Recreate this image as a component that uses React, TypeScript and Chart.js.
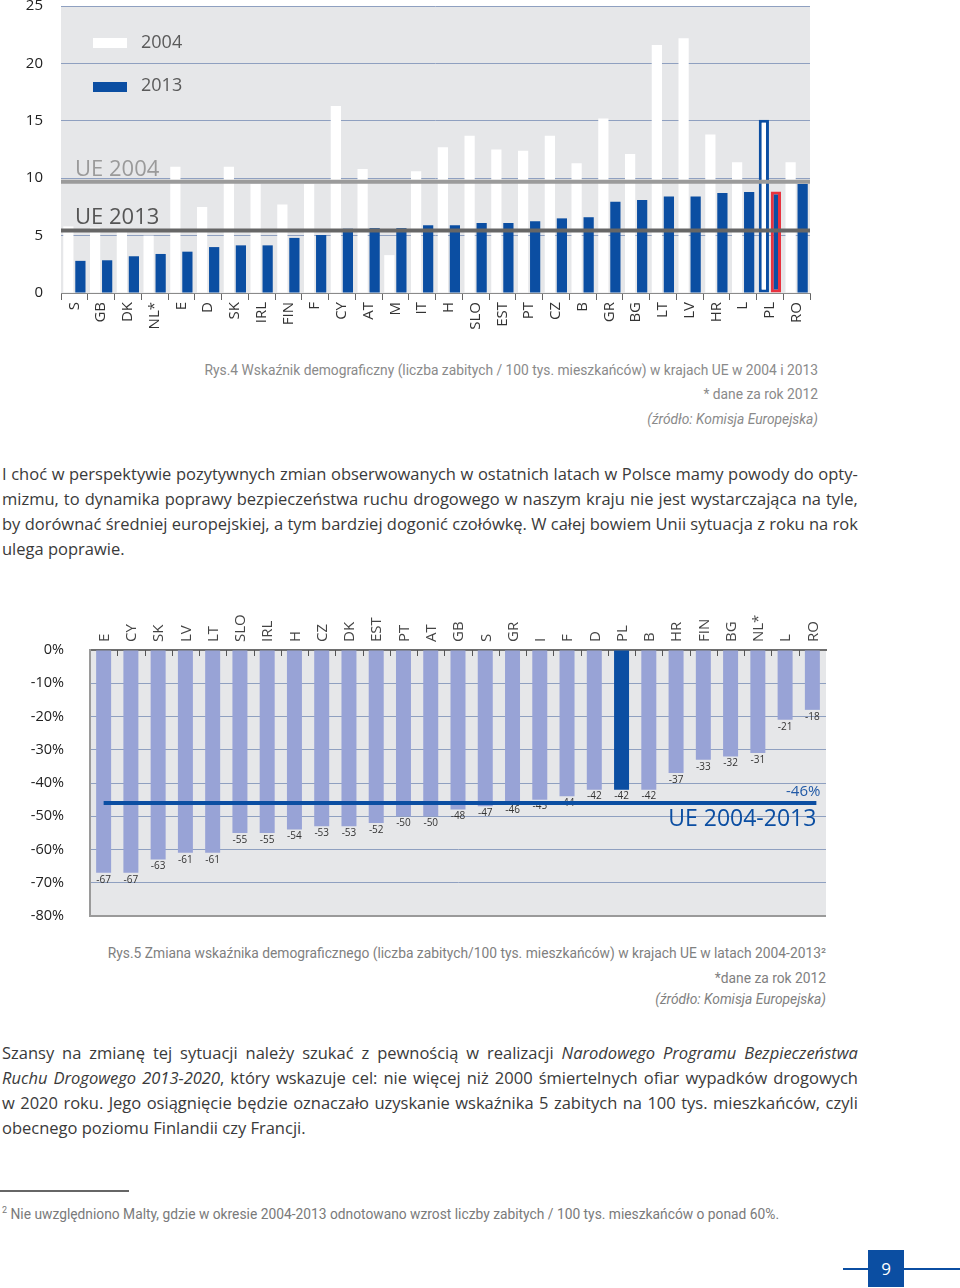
import React, { useEffect, useRef } from 'react';
import { Chart, registerables } from 'chart.js';
Chart.register(...registerables);

// ---------- Data: chart 1 (Rys.4) ----------
const countries1 = ['S', 'GB', 'DK', 'NL*', 'E', 'D', 'SK', 'IRL', 'FIN', 'F', 'CY', 'AT', 'M', 'IT', 'H', 'SLO', 'EST', 'PT', 'CZ', 'B', 'GR', 'BG', 'LT', 'LV', 'HR', 'L', 'PL', 'RO'];
const values2004 = [5.8, 5.7, 5.5, 5.0, 11.0, 7.5, 11.0, 9.5, 7.7, 9.5, 16.3, 10.8, 3.3, 10.6, 12.7, 13.7, 12.5, 12.4, 13.7, 11.3, 15.2, 12.1, 21.6, 22.2, 13.8, 11.4, 15.1, 11.4];
const values2013 = [2.8, 2.85, 3.2, 3.4, 3.6, 4.0, 4.15, 4.15, 4.8, 5.05, 5.6, 5.65, 5.65, 5.9, 5.9, 6.1, 6.1, 6.25, 6.5, 6.6, 7.95, 8.1, 8.4, 8.4, 8.7, 8.8, 8.85, 9.5];
const ue2004 = 9.7;
const ue2013 = 5.45;
const legendLabels1 = ['2004', '2013'];
const refLabels1 = ['UE 2004', 'UE 2013'];

// ---------- Data: chart 2 (Rys.5) ----------
const countries2 = ['E', 'CY', 'SK', 'LV', 'LT', 'SLO', 'IRL', 'H', 'CZ', 'DK', 'EST', 'PT', 'AT', 'GB', 'S', 'GR', 'I', 'F', 'D', 'PL', 'B', 'HR', 'FIN', 'BG', 'NL*', 'L', 'RO'];
const change2 = [-67, -67, -63, -61, -61, -55, -55, -54, -53, -53, -52, -50, -50, -48, -47, -46, -45, -44, -42, -42, -42, -37, -33, -32, -31, -21, -18];
const ueChange = -46;
const ueChangeLabel = 'UE 2004-2013';

const BLUE = '#0b4ea2';
const RED = '#e8333f';
const LAVENDER = '#98a3d6';
const PLOT_BG = '#e6e7e9';
const GRID = '#8fa0c0';
const FONT = '"Open Sans", "Noto Sans", sans-serif';
const FONT2 = 'Roboto, "Open Sans", sans-serif';

const zeroPad = (s: any) => {
  s.paddingTop = 0;
  s.paddingBottom = 0;
  s.paddingLeft = 0;
  s.paddingRight = 0;
};

const bgPlugin = {
  id: 'plotbg',
  beforeDraw(chart: any) {
    const { ctx, chartArea } = chart;
    ctx.save();
    ctx.fillStyle = PLOT_BG;
    ctx.fillRect(chartArea.left, chartArea.top, chartArea.right - chartArea.left, chartArea.bottom - chartArea.top);
    ctx.restore();
  },
};

const overlay1 = {
  id: 'overlay1',
  afterDatasetsDraw(chart: any) {
    const { ctx, chartArea } = chart;
    const y = chart.scales.y;
    ctx.save();
    const y04 = y.getPixelForValue(ue2004);
    const y13 = y.getPixelForValue(ue2013);
    ctx.lineWidth = 4;
    ctx.strokeStyle = '#9b9b9b';
    ctx.beginPath();
    ctx.moveTo(chartArea.left, y04);
    ctx.lineTo(chartArea.right, y04);
    ctx.stroke();
    ctx.strokeStyle = '#666666';
    ctx.beginPath();
    ctx.moveTo(chartArea.left, y13);
    ctx.lineTo(chartArea.right, y13);
    ctx.stroke();
    ctx.font = '22px ' + FONT;
    ctx.textAlign = 'left';
    ctx.textBaseline = 'alphabetic';
    ctx.fillStyle = '#9a9a9a';
    ctx.fillText(refLabels1[0], chartArea.left + 14, y04 - 6);
    ctx.fillStyle = '#555555';
    ctx.fillText(refLabels1[1], chartArea.left + 14, y13 - 6);
    // legend
    const lx = chartArea.left + 32;
    ctx.fillStyle = '#ffffff';
    ctx.fillRect(lx, chartArea.top + 32, 34, 10);
    ctx.fillStyle = BLUE;
    ctx.fillRect(lx, chartArea.top + 76, 34, 10);
    ctx.font = '18px ' + FONT;
    ctx.fillStyle = '#5a5a5a';
    ctx.textBaseline = 'middle';
    ctx.fillText(legendLabels1[0], lx + 48, chartArea.top + 37);
    ctx.fillText(legendLabels1[1], lx + 48, chartArea.top + 80);
    ctx.restore();
  },
};

const overlay2 = {
  id: 'overlay2',
  afterDatasetsDraw(chart: any) {
    const { ctx, chartArea } = chart;
    const x = chart.scales.x;
    const y = chart.scales.y;
    const meta = chart.getDatasetMeta(0);
    ctx.save();
    ctx.strokeStyle = '#555';
    ctx.lineWidth = 1;
    for (let i = 0; i < countries2.length - 1; i++) {
      const bx = Math.round((x.getPixelForValue(i) + x.getPixelForValue(i + 1)) / 2) + 0.5;
      ctx.beginPath();
      ctx.moveTo(bx, chartArea.top);
      ctx.lineTo(bx, chartArea.top + 6);
      ctx.stroke();
    }
    ctx.font = '10px ' + FONT;
    ctx.fillStyle = '#333';
    ctx.textAlign = 'center';
    ctx.textBaseline = 'middle';
    meta.data.forEach((bar: any, i: number) => {
      ctx.fillText(String(change2[i]), bar.x, bar.y + 7);
    });
    const ay = y.getPixelForValue(ueChange);
    ctx.strokeStyle = BLUE;
    ctx.lineWidth = 4;
    ctx.beginPath();
    ctx.moveTo(meta.data[0].x, ay);
    ctx.lineTo(meta.data[meta.data.length - 1].x + 4, ay);
    ctx.stroke();
    const rx = meta.data[meta.data.length - 1].x + 4;
    ctx.textAlign = 'right';
    ctx.textBaseline = 'alphabetic';
    ctx.fillStyle = '#2159a6';
    ctx.font = '15px ' + FONT;
    ctx.fillText(ueChange + '%', rx + 4, ay - 7);
    ctx.fillStyle = BLUE;
    ctx.font = '23px ' + FONT;
    ctx.fillText(ueChangeLabel, rx, ay + 23);
    ctx.restore();
  },
};

type Seg = { t: string; i: boolean };
function parseWords(line: string): Seg[][] {
  const words: Seg[][] = [];
  let italic = false;
  let cur: Seg[] = [];
  let buf = '';
  const flushBuf = () => {
    if (buf) cur.push({ t: buf, i: italic });
    buf = '';
  };
  for (const ch of line) {
    if (ch === '_') {
      flushBuf();
      italic = !italic;
    } else if (ch === ' ') {
      flushBuf();
      if (cur.length) words.push(cur);
      cur = [];
    } else buf += ch;
  }
  flushBuf();
  if (cur.length) words.push(cur);
  return words;
}

function TextLine({ text, top, justify, left = 2, width = 856, size = 16.5 }: any) {
  const words = parseWords(text);
  return (
    <div
      style={{
        position: 'absolute',
        left,
        top,
        width,
        height: 24,
        lineHeight: '24px',
        display: 'flex',
        justifyContent: justify ? 'space-between' : 'flex-start',
        gap: justify ? 0 : '0.26em',
        whiteSpace: 'nowrap',
        fontFamily: FONT,
        fontSize: size,
        color: '#3a3a3a',
      }}
    >
      {words.map((w, k) => (
        <span key={k}>
          {w.map((s, j) => (
            <span key={j} style={{ fontStyle: s.i ? 'italic' : 'normal' }}>{s.t}</span>
          ))}
        </span>
      ))}
    </div>
  );
}

function Caption({ text, right, top, italic, size = 13.8, color = '#8a8a8a' }: any) {
  return (
    <div
      style={{
        position: 'absolute',
        right,
        top,
        height: 18,
        lineHeight: '18px',
        whiteSpace: 'nowrap',
        fontFamily: FONT2,
        fontSize: size,
        fontStyle: italic ? 'italic' : 'normal',
        color,
      }}
    >
      {text}
    </div>
  );
}

const para1 = [
  'I choć w perspektywie pozytywnych zmian obserwowanych w ostatnich latach w Polsce mamy powody do opty-',
  'mizmu, to dynamika poprawy bezpieczeństwa ruchu drogowego w naszym kraju nie jest wystarczająca na tyle,',
  'by dorównać średniej europejskiej, a tym bardziej dogonić czołówkę. W całej bowiem Unii sytuacja z roku na rok',
  'ulega poprawie.',
];
const para2 = [
  'Szansy na zmianę tej sytuacji należy szukać z pewnością w realizacji _Narodowego Programu Bezpieczeństwa_',
  '_Ruchu Drogowego 2013-2020_, który wskazuje cel: nie więcej niż 2000 śmiertelnych ofiar wypadków drogowych',
  'w 2020 roku. Jego osiągnięcie będzie oznaczało uzyskanie wskaźnika 5 zabitych na 100 tys. mieszkańców, czyli',
  'obecnego poziomu Finlandii czy Francji.',
];

export default function App() {
  const ref1 = useRef<HTMLCanvasElement>(null);
  const ref2 = useRef<HTMLCanvasElement>(null);

  useEffect(() => {
    const tickFont = { family: FONT, size: 15 };
    const c1 = new Chart(ref1.current as HTMLCanvasElement, {
      type: 'bar',
      data: {
        labels: countries1,
        datasets: [
          {
            label: legendLabels1[0],
            data: values2004,
            backgroundColor: '#ffffff',
            borderColor: countries1.map((c) => (c === 'PL' ? BLUE : 'rgba(0,0,0,0)')),
            borderWidth: countries1.map((c) => (c === 'PL' ? 3 : 0)),
            borderSkipped: false,
            categoryPercentage: 0.9,
            barPercentage: 0.85,
          },
          {
            label: legendLabels1[1],
            data: values2013,
            backgroundColor: BLUE,
            borderColor: countries1.map((c) => (c === 'PL' ? RED : 'rgba(0,0,0,0)')),
            borderWidth: countries1.map((c) => (c === 'PL' ? 3 : 0)),
            borderSkipped: false,
            categoryPercentage: 0.9,
            barPercentage: 0.85,
          },
        ],
      },
      options: {
        responsive: false,
        animation: false,
        layout: { padding: { left: 0, top: 6, right: 20, bottom: 0 } },
        plugins: { legend: { display: false }, tooltip: { enabled: false } },
        scales: {
          x: {
            grid: { drawOnChartArea: false, drawTicks: true, tickLength: 7, color: '#666', offset: true },
            border: { display: true, color: '#8a8a8a', width: 1 },
            ticks: { minRotation: 90, maxRotation: 90, autoSkip: false, padding: 2, color: '#333', font: tickFont },
            afterFit: (s: any) => { s.height = 47; zeroPad(s); },
          },
          y: {
            min: 0,
            max: 25,
            ticks: { stepSize: 5, padding: 18, color: '#222', font: tickFont },
            grid: { color: GRID, lineWidth: 1, drawTicks: false },
            border: { display: false },
            afterFit: (s: any) => { s.width = 61; zeroPad(s); },
          },
        },
      } as any,
      plugins: [bgPlugin, overlay1],
    });

    const c2 = new Chart(ref2.current as HTMLCanvasElement, {
      type: 'bar',
      data: {
        labels: countries2,
        datasets: [
          {
            data: change2,
            backgroundColor: countries2.map((c) => (c === 'PL' ? BLUE : LAVENDER)),
            borderWidth: 0,
            categoryPercentage: 1,
            barPercentage: 0.55,
          },
        ],
      },
      options: {
        responsive: false,
        animation: false,
        layout: { padding: { left: 0, top: 0, right: 24, bottom: 14 } },
        plugins: { legend: { display: false }, tooltip: { enabled: false } },
        scales: {
          x: {
            position: 'top',
            grid: { display: false },
            border: { display: true, color: '#6e6e6e', width: 2 },
            ticks: { minRotation: 90, maxRotation: 90, autoSkip: false, padding: 0, labelOffset: 19, color: '#444', font: tickFont },
            afterFit: (s: any) => { s.height = 60; zeroPad(s); },
          },
          y: {
            min: -80,
            max: 0,
            ticks: { stepSize: 10, padding: 26, color: '#222', font: { family: FONT, size: 14.5 }, callback: (v: any) => v + '%' },
            grid: {
              drawTicks: false,
              color: (ctx: any) => (ctx.tick && ctx.tick.value === -80 ? '#9a9a9a' : ctx.tick && ctx.tick.value === 0 ? 'rgba(0,0,0,0)' : GRID),
              lineWidth: (ctx: any) => (ctx.tick && ctx.tick.value === -80 ? 2 : 1),
            },
            border: { display: true, color: '#9a9a9a', width: 2 },
            afterFit: (s: any) => { s.width = 90; zeroPad(s); },
          },
        },
      } as any,
      plugins: [bgPlugin, overlay2],
    });

    return () => {
      c1.destroy();
      c2.destroy();
    };
  }, []);

  return (
    <div style={{ position: 'absolute', left: 0, top: 0, width: 960, height: 1288, background: '#fff', overflow: 'hidden' }}>
      <canvas ref={ref1} width={830} height={340} style={{ position: 'absolute', left: 0, top: 0, display: 'block' }} />

      <Caption text="Rys.4 Wskaźnik demograficzny (liczba zabitych / 100 tys. mieszkańców) w krajach UE w 2004 i 2013" right={142} top={361} />
      <Caption text="* dane za rok 2012" right={142} top={385} />
      <Caption text="(źródło: Komisja Europejska)" right={142} top={410} italic />

      {para1.map((l, i) => (
        <TextLine key={i} text={l} top={462 + i * 25} justify={i < 3} />
      ))}

      <canvas ref={ref2} width={850} height={340} style={{ position: 'absolute', left: 0, top: 590, display: 'block' }} />

      <Caption text="Rys.5 Zmiana wskaźnika demograficznego (liczba zabitych/100 tys. mieszkańców) w krajach UE w latach 2004-2013²" right={134} top={944} size={13.8} color="#808080" />
      <Caption text="*dane za rok 2012" right={134} top={969} size={13.8} color="#808080" />
      <Caption text="(źródło: Komisja Europejska)" right={134} top={990} size={13.8} italic color="#808080" />

      {para2.map((l, i) => (
        <TextLine key={i} text={l} top={1041 + i * 25} justify={i < 3} />
      ))}

      <div style={{ position: 'absolute', left: 0, top: 1190, width: 129, height: 2, background: '#666' }} />
      <div style={{ position: 'absolute', left: 2, top: 1201, height: 18, lineHeight: '18px', whiteSpace: 'nowrap', fontFamily: FONT2, fontSize: 13.8, color: '#7a7a7a' }}>
        <sup style={{ fontSize: 9 }}>2</sup> Nie uwzględniono Malty, gdzie w okresie 2004-2013 odnotowano wzrost liczby zabitych / 100 tys. mieszkańców o ponad 60%.
      </div>

      <div style={{ position: 'absolute', left: 843, top: 1268, width: 117, height: 2, background: BLUE }} />
      <div style={{ position: 'absolute', left: 868, top: 1250, width: 36, height: 37, background: BLUE, color: '#fff', fontFamily: FONT, fontSize: 17, lineHeight: '37px', textAlign: 'center' }}>9</div>
    </div>
  );
}
